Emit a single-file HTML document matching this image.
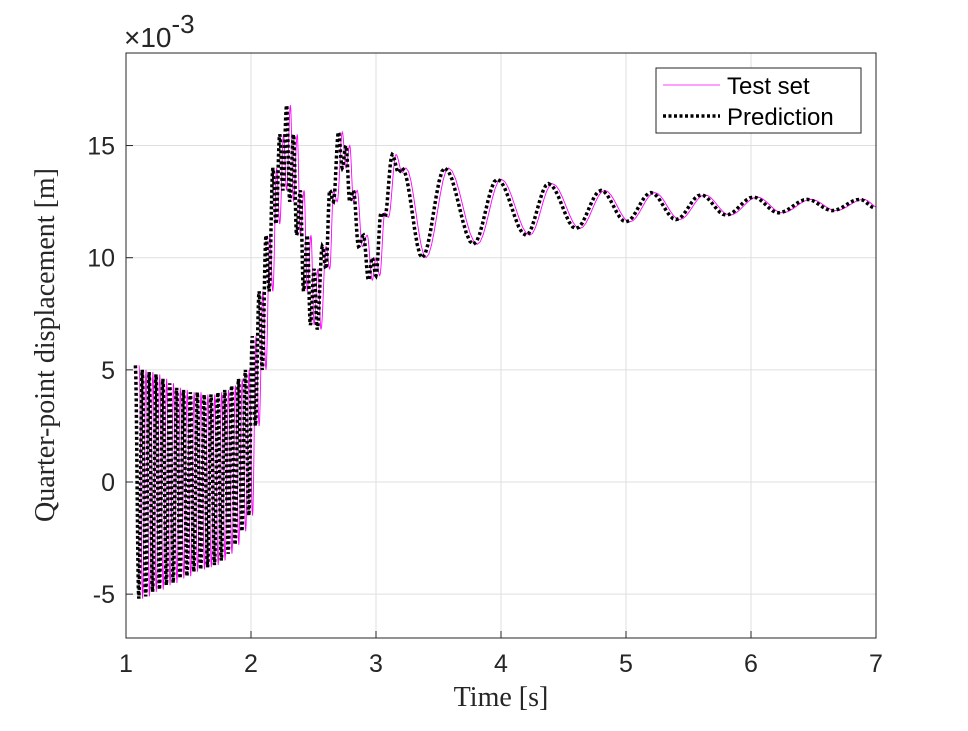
<!DOCTYPE html>
<html><head><meta charset="utf-8"><style>
body{margin:0;background:#fff;}
svg text{font-family:"Liberation Sans",sans-serif;}
</style></head><body>
<svg id="chart" width="968" height="726" viewBox="0 0 968 726" xmlns="http://www.w3.org/2000/svg">
<rect x="0" y="0" width="968" height="726" fill="#fff"/>
<g id="grid"></g>
<g id="series"></g>
<rect x="126" y="53" width="750" height="585" fill="none" stroke="#262626" stroke-width="1"/>
<g id="ticks"></g>
<text x="124" y="47" font-size="28" fill="#262626">×10<tspan dy="-14" font-size="26">-3</tspan></text>
<text x="501" y="706" font-size="28" text-anchor="middle" fill="#262626" style="font-family:'Liberation Serif',serif">Time [s]</text>
<text transform="translate(54,345) rotate(-90)" font-size="28" text-anchor="middle" fill="#262626" style="font-family:'Liberation Serif',serif">Quarter-point displacement [m]</text>
<g>
<rect x="656" y="68" width="205" height="65" fill="#fff" stroke="#262626" stroke-width="1"/>
<line x1="663" y1="85" x2="720" y2="85" stroke="#ff00ff" stroke-width="0.8"/>
<text x="727" y="94" font-size="24" fill="#000">Test set</text>
<line x1="663" y1="116" x2="720" y2="116" stroke="#000" stroke-width="3.5" stroke-dasharray="3 2.5"/>
<text x="727" y="125" font-size="24" fill="#000">Prediction</text>
</g>
</svg>
<script>
const xTicks=[1,2,3,4,5,6,7];
const yTicks=[-5,0,5,10,15];
const yTickLabels=["-5","0","5","10","15"];
// prediction extrema (time s, value x1e-3 m)
const fastUpper=[5.2,5.0,4.9,4.8,4.6,4.4,4.2,4.1,4.0,4.0,3.9,3.9,4.0,4.1,4.3,4.6,5.0];
const fastLower=[-5.2,-5.1,-4.9,-4.8,-4.6,-4.5,-4.3,-4.2,-4.0,-3.9,-3.8,-3.7,-3.5,-3.2,-2.8,-2.2,-1.5];
const fastStart=1.075, fastPeriod=0.055;
const riseT=[2.01,2.035,2.065,2.09,2.12,2.145,2.175,2.2,2.23,2.255,2.285,2.31,2.34,2.365,2.395,2.42,2.45,2.475,2.505,2.53];
const riseV=[6.5,2.5,8.5,5.0,11.0,8.5,14.0,11.5,15.5,13.0,16.8,12.5,15.5,11.0,13.0,8.5,11.0,7.0,9.5,6.8];
const lateT=[2.57,2.60,2.63,2.66,2.70,2.73,2.76,2.79,2.82,2.86,2.90,2.94,2.97,3.00,3.04,3.07,3.13,3.18,3.21,3.37,3.55,3.78,3.97,4.2,4.38,4.6,4.8,5.0,5.2,5.4,5.6,5.8,6.02,6.22,6.45,6.65,6.87,7.0];
const lateV=[10.5,9.5,13.0,12.5,15.6,14.0,15.0,12.5,13.0,10.5,11.0,9.0,10.0,9.2,12.0,11.8,14.6,13.8,14.0,10.0,14.0,10.6,13.5,11.0,13.3,11.3,13.0,11.6,12.9,11.7,12.8,11.9,12.7,12.0,12.6,12.1,12.6,12.2];
const testLag=0.03;

const X0=126,X1=876,Y0=482,KY=22.43;
const sx=t=>X0+(t-1)/6*(X1-X0);
const sy=v=>Y0-v*KY;
const NS="http://www.w3.org/2000/svg";
const grid=document.getElementById('grid'),ticks=document.getElementById('ticks'),series=document.getElementById('series');
function mk(tag,attrs,parent){const e=document.createElementNS(NS,tag);for(const k in attrs)e.setAttribute(k,attrs[k]);parent.appendChild(e);return e;}
xTicks.forEach(t=>{
  const g=mk('line',{x1:sx(t),x2:sx(t),y1:53,y2:638,stroke:'#dfdfdf','stroke-width':1},grid);
  
  
  const tk=mk('line',{x1:sx(t),x2:sx(t),y1:638,y2:631,stroke:'#262626'},ticks);
  
  
  const tx=mk('text',{x:sx(t),y:672,'font-size':25,'text-anchor':'middle',fill:'#262626'},ticks);
  tx.textContent=String(t);
  
  
});
yTicks.forEach((v,i)=>{
  const g=mk('line',{x1:126,x2:876,y1:sy(v),y2:sy(v),stroke:'#dfdfdf','stroke-width':1},grid);
  
  
  const tk=mk('line',{x1:126,x2:133,y1:sy(v),y2:sy(v),stroke:'#262626'},ticks);
  
  
  const tx=mk('text',{x:115,y:sy(v)+9,'font-size':25,'text-anchor':'end',fill:'#262626'},ticks);
  tx.textContent=yTickLabels[i];
  
  
});
const T=[],V=[];
for(let k=0;k<fastUpper.length;k++){
  T.push(fastStart+k*fastPeriod);V.push(fastUpper[k]);
  T.push(fastStart+k*fastPeriod+fastPeriod/2);V.push(fastLower[k]);
}
riseT.forEach((t,i)=>{T.push(t);V.push(riseV[i]);});
lateT.forEach((t,i)=>{T.push(t);V.push(lateV[i]);});
function pathFor(lag){
  let d='';
  for(let i=0;i<T.length-1;i++){
    const t0=T[i]+lag,t1=T[i+1]+lag,v0=V[i],v1=V[i+1];
    for(let s=0;s<8;s++){
      const f=s/8,t=t0+(t1-t0)*f,v=v0+(v1-v0)*(1-Math.cos(Math.PI*f))/2;
      if(t>7)break;
      d+=(d?'L':'M')+sx(t).toFixed(2)+' '+sy(v).toFixed(2);
    }
  }
  return d;
}
const test=mk('path',{d:pathFor(testLag),fill:'none',stroke:'#ff00ff','stroke-width':0.9},series);


const pred=mk('path',{d:pathFor(0),fill:'none',stroke:'#000','stroke-width':3.5,'stroke-dasharray':'3 2.5'},series);


</script>
</body></html>
